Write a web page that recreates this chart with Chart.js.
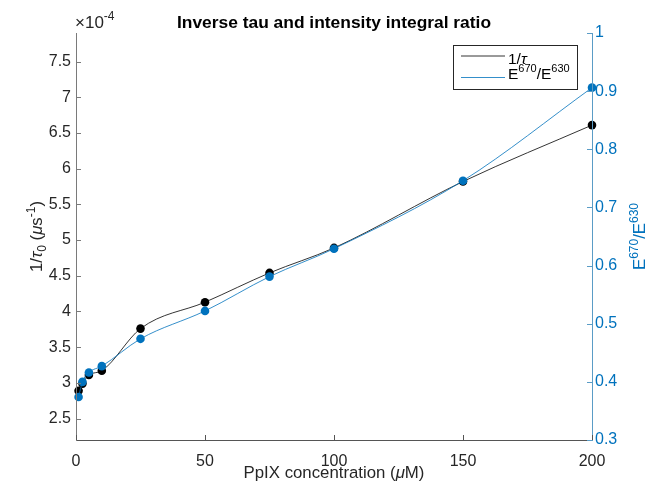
<!DOCTYPE html>
<html>
<head>
<meta charset="utf-8">
<script src="https://cdn.jsdelivr.net/npm/chart.js@4.4.1/dist/chart.umd.min.js"></script>
<style>
  html, body { margin: 0; padding: 0; background: #ffffff; }
  #wrap { width: 653px; height: 491px; }
</style>
</head>
<body>
<div id="wrap"><canvas id="chart" width="653" height="491"></canvas></div>
<script>
// PpIX concentration in µM
const concentration = [1, 2.5, 5, 10, 25, 50, 75, 100, 150, 200];
// inverse lifetime, in units of 10^-4 µs^-1
const inverseTau = [2.89, 2.99, 3.11, 3.17, 3.76, 4.13, 4.54, 4.89, 5.82, 6.61];
// emission intensity integral ratio E670 / E630
const intensityRatio = [0.374, 0.400, 0.416, 0.427, 0.474, 0.522, 0.581, 0.629, 0.746, 0.906];

const xTicks = [0, 50, 100, 150, 200];
const leftTicks = [2.5, 3, 3.5, 4, 4.5, 5, 5.5, 6, 6.5, 7, 7.5];
const rightTicks = [0.3, 0.4, 0.5, 0.6, 0.7, 0.8, 0.9, 1];
const leftExponent = '-4';

const FONT = '"Liberation Sans", Arial, Helvetica, sans-serif';
const BLUE = '#0072BD';
const BLUE_AXIS = '#5a9cc6';
const DARK = '#262626';

function points(xs, ys) {
  return xs.map((x, i) => ({ x: x, y: ys[i] }));
}

// draw a sequence of text runs (with sub/superscripts) centred or left-aligned on (x, y)
function drawRuns(ctx, runs, x, y, align) {
  let total = 0;
  runs.forEach(r => {
    ctx.font = (r.italic ? 'italic ' : '') + (r.weight || 'normal') + ' ' + r.size + 'px ' + FONT;
    r.w = ctx.measureText(r.text).width;
    total += r.w;
  });
  let cx = align === 'center' ? x - total / 2 : x;
  ctx.textAlign = 'left';
  ctx.textBaseline = 'alphabetic';
  runs.forEach(r => {
    ctx.font = (r.italic ? 'italic ' : '') + (r.weight || 'normal') + ' ' + r.size + 'px ' + FONT;
    ctx.fillText(r.text, cx, y + (r.dy || 0));
    cx += r.w;
  });
}

const decorations = {
  id: 'decorations',
  afterDraw(chart) {
    const ctx = chart.ctx;
    const area = chart.chartArea;
    const xs = chart.scales.x, yl = chart.scales.y, yr = chart.scales.y2;
    ctx.save();

    // axis lines
    ctx.lineWidth = 1;
    ctx.strokeStyle = '#555555';
    ctx.beginPath();
    ctx.moveTo(area.left, area.bottom + 0.5);
    ctx.lineTo(area.right, area.bottom + 0.5);
    ctx.stroke();
    ctx.strokeStyle = '#7a7a7a';
    ctx.beginPath();
    ctx.moveTo(area.left + 0.5, area.top);
    ctx.lineTo(area.left + 0.5, area.bottom + 1);
    ctx.stroke();
    ctx.strokeStyle = BLUE_AXIS;
    ctx.beginPath();
    ctx.moveTo(area.right + 0.5, area.top);
    ctx.lineTo(area.right + 0.5, area.bottom + 1);
    ctx.stroke();

    // inward tick marks
    const tl = 5;
    ctx.strokeStyle = '#555555';
    ctx.beginPath();
    xTicks.forEach(v => {
      const px = Math.round(xs.getPixelForValue(v)) + 0.5;
      ctx.moveTo(px, area.bottom);
      ctx.lineTo(px, area.bottom - tl);
    });
    ctx.stroke();
    ctx.strokeStyle = '#7a7a7a';
    ctx.beginPath();
    leftTicks.forEach(v => {
      const py = Math.round(yl.getPixelForValue(v)) + 0.5;
      ctx.moveTo(area.left, py);
      ctx.lineTo(area.left + tl, py);
    });
    ctx.stroke();
    ctx.strokeStyle = BLUE_AXIS;
    ctx.beginPath();
    rightTicks.forEach(v => {
      const py = Math.round(yr.getPixelForValue(v)) + 0.5;
      ctx.moveTo(area.right, py);
      ctx.lineTo(area.right - tl, py);
    });
    ctx.stroke();

    // title
    ctx.fillStyle = '#000000';
    drawRuns(ctx, [{ text: 'Inverse tau and intensity integral ratio', size: 17.4, weight: 'bold' }],
      (area.left + area.right) / 2, 28, 'center');

    // exponent of the left axis
    ctx.fillStyle = DARK;
    drawRuns(ctx, [
      { text: '\u00d7', size: 17 },
      { text: '10', size: 17 },
      { text: leftExponent, size: 12, dy: -8 }
    ], area.left - 1, 28, 'left');

    // x axis title
    drawRuns(ctx, [
      { text: 'PpIX concentration (', size: 16.8 },
      { text: '\u03bc', size: 16.8, italic: true },
      { text: 'M)', size: 16.8 }
    ], (area.left + area.right) / 2, 478, 'center');

    // left axis title
    ctx.save();
    ctx.translate(42, (area.top + area.bottom) / 2);
    ctx.rotate(-Math.PI / 2);
    drawRuns(ctx, [
      { text: '1/', size: 16.8 },
      { text: '\u03c4', size: 16.8, italic: true },
      { text: '0', size: 12, dy: 4 },
      { text: ' (', size: 16.8 },
      { text: '\u03bc', size: 16.8, italic: true },
      { text: 's', size: 16.8 },
      { text: '-1', size: 12, dy: -7 },
      { text: ')', size: 16.8 }
    ], 0, 0, 'center');
    ctx.restore();

    // right axis title
    ctx.save();
    ctx.fillStyle = BLUE;
    ctx.translate(645, (area.top + area.bottom) / 2);
    ctx.rotate(-Math.PI / 2);
    drawRuns(ctx, [
      { text: 'E', size: 16.8 },
      { text: '670', size: 12, dy: -7 },
      { text: '/E', size: 16.8 },
      { text: '630', size: 12, dy: -7 }
    ], 0, 0, 'center');
    ctx.restore();

    // legend
    const lx = 453.5, ly = 45.5, lw = 124, lh = 44;
    ctx.fillStyle = '#ffffff';
    ctx.fillRect(lx, ly, lw, lh);
    ctx.strokeStyle = DARK;
    ctx.lineWidth = 1;
    ctx.strokeRect(lx, ly, lw, lh);
    ctx.lineWidth = 0.8;
    ctx.strokeStyle = '#000000';
    ctx.beginPath(); ctx.moveTo(461, 56); ctx.lineTo(505, 56); ctx.stroke();
    ctx.strokeStyle = BLUE;
    ctx.beginPath(); ctx.moveTo(461, 77.5); ctx.lineTo(505, 77.5); ctx.stroke();
    ctx.fillStyle = '#000000';
    drawRuns(ctx, [
      { text: '1/', size: 15.5 },
      { text: '\u03c4', size: 15.5, italic: true }
    ], 508, 64, 'left');
    drawRuns(ctx, [
      { text: 'E', size: 15.5 },
      { text: '670', size: 11, dy: -7 },
      { text: '/E', size: 15.5 },
      { text: '630', size: 11, dy: -7 }
    ], 508, 79, 'left');

    ctx.restore();
  }
};

const chart = new Chart(document.getElementById('chart'), {
  type: 'scatter',
  data: {
    datasets: [
      {
        label: '1/\u03c4',
        data: points(concentration, inverseTau),
        yAxisID: 'y',
        order: 1,
        showLine: true,
        borderColor: '#000000',
        backgroundColor: '#000000',
        borderWidth: 0.8,
        pointRadius: 4.3,
        pointBorderWidth: 0,
        cubicInterpolationMode: 'monotone'
      },
      {
        label: 'E670/E630',
        data: points(concentration, intensityRatio),
        yAxisID: 'y2',
        order: 0,
        showLine: true,
        borderColor: BLUE,
        backgroundColor: BLUE,
        borderWidth: 0.8,
        pointRadius: 4.3,
        pointBorderWidth: 0,
        cubicInterpolationMode: 'monotone'
      }
    ]
  },
  options: {
    responsive: false,
    animation: false,
    devicePixelRatio: 1,
    clip: false,
    layout: { padding: { top: 33, left: 0, right: 0, bottom: 0 } },
    plugins: { legend: { display: false }, tooltip: { enabled: false }, title: { display: false } },
    scales: {
      x: {
        type: 'linear',
        min: 0, max: 200,
        afterBuildTicks: s => { s.ticks = xTicks.map(v => ({ value: v })); },
        afterFit: s => { s.height = 51; },
        grid: { display: false, drawTicks: false },
        border: { display: false },
        ticks: { padding: 12, color: DARK, font: { family: FONT, size: 16 }, maxRotation: 0 }
      },
      y: {
        type: 'linear',
        position: 'left',
        min: 2.2, max: 7.9,
        afterBuildTicks: s => { s.ticks = leftTicks.map(v => ({ value: v })); },
        afterFit: s => { s.width = 76; },
        grid: { display: false, drawTicks: false },
        border: { display: false },
        ticks: { padding: 5, color: DARK, font: { family: FONT, size: 16 }, callback: v => String(v) }
      },
      y2: {
        type: 'linear',
        position: 'right',
        min: 0.3, max: 1,
        afterBuildTicks: s => { s.ticks = rightTicks.map(v => ({ value: v })); },
        afterFit: s => { s.width = 61; },
        grid: { display: false, drawTicks: false },
        border: { display: false },
        ticks: { padding: 3, color: BLUE, font: { family: FONT, size: 16 }, callback: v => String(v) }
      }
    }
  },
  plugins: [decorations]
});
</script>
</body>
</html>
